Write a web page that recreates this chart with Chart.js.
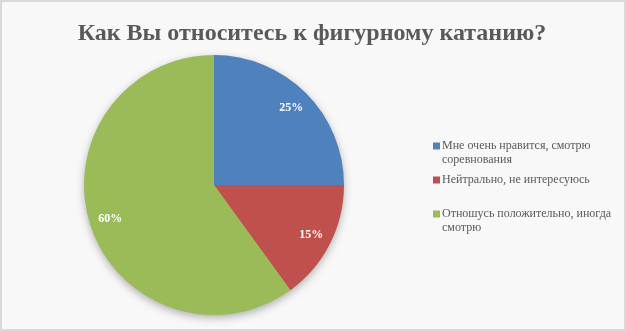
<!DOCTYPE html>
<html>
<head>
<meta charset="utf-8">
<script src="https://cdn.jsdelivr.net/npm/chart.js@4.4.0/dist/chart.umd.min.js"></script>
<style>
  html, body { margin: 0; padding: 0; background: #fff; }
  #wrap { width: 626px; height: 331px; position: relative; }
</style>
</head>
<body>
<div id="wrap"><canvas id="grafico" width="626" height="331"></canvas></div>
<script>
// dados do grafico
var titulo = "Как Вы относитесь к фигурному катанию?";
var categorias = [
  "Мне очень нравится, смотрю соревнования",
  "Нейтрально, не интересуюсь",
  "Отношусь положительно, иногда смотрю"
];
var valores = [25, 15, 60];
var cores = ["#4F81BD", "#C0504D", "#9BBB59"];

var fonteSerif = "'Liberation Serif', 'Times New Roman', serif";

// fundo, borda e titulo
var pluginFundo = {
  id: "fundo",
  beforeDraw: function (chart) {
    var ctx = chart.ctx;
    ctx.save();
    ctx.fillStyle = "#f8f8f8";
    ctx.fillRect(0, 0, chart.width, chart.height);
    ctx.strokeStyle = "#d9d9d9";
    ctx.lineWidth = 2;
    ctx.strokeRect(1, 1, chart.width - 2, chart.height - 2);
    ctx.fillStyle = "#595959";
    ctx.font = "bold 24px " + fonteSerif;
    ctx.textAlign = "center";
    ctx.textBaseline = "alphabetic";
    ctx.fillText(titulo, 312, 40);
    ctx.restore();
  },
  beforeDatasetsDraw: function (chart) {
    // sombra da pizza
    var arco = chart.getDatasetMeta(0).data[0];
    var ctx = chart.ctx;
    ctx.save();
    ctx.shadowColor = "rgba(0,0,0,0.35)";
    ctx.shadowBlur = 10;
    ctx.shadowOffsetY = 3;
    ctx.fillStyle = "#9BBB59";
    ctx.beginPath();
    ctx.arc(arco.x, arco.y, arco.outerRadius - 1, 0, Math.PI * 2);
    ctx.fill();
    ctx.restore();
  },
  afterDatasetsDraw: function (chart) {
    var ctx = chart.ctx;
    var total = valores.reduce(function (a, b) { return a + b; }, 0);
    ctx.save();
    ctx.fillStyle = "#ffffff";
    ctx.font = "bold 12px " + fonteSerif;
    ctx.textAlign = "center";
    ctx.textBaseline = "middle";
    chart.getDatasetMeta(0).data.forEach(function (arco, i) {
      var meio = (arco.startAngle + arco.endAngle) / 2;
      var r = arco.outerRadius * 0.84;
      var x = arco.x + Math.cos(meio) * r;
      var y = arco.y + Math.sin(meio) * r;
      ctx.fillText(Math.round(valores[i] / total * 100) + "%", x, y);
    });
    ctx.restore();
  },
  afterDraw: function (chart) {
    // legenda desenhada a mao (texto com quebra de linha)
    var ctx = chart.ctx;
    var xMarca = 433, xTexto = 442, larguraMax = 176;
    var ys = [146, 180, 214];
    ctx.save();
    ctx.font = "12px " + fonteSerif;
    ctx.textBaseline = "middle";
    for (var i = 0; i < categorias.length; i++) {
      ctx.fillStyle = cores[i];
      ctx.fillRect(xMarca, ys[i] - 3.5, 7, 7);
      var palavras = categorias[i].split(" ");
      var linhas = [];
      var atual = "";
      for (var p = 0; p < palavras.length; p++) {
        var teste = atual ? atual + " " + palavras[p] : palavras[p];
        if (ctx.measureText(teste).width > larguraMax && atual) {
          linhas.push(atual);
          atual = palavras[p];
        } else {
          atual = teste;
        }
      }
      linhas.push(atual);
      ctx.fillStyle = "#595959";
      for (var l = 0; l < linhas.length; l++) {
        ctx.fillText(linhas[l], xTexto, ys[i] + l * 14);
      }
    }
    ctx.restore();
  }
};

var config = {
  type: "pie",
  data: {
    labels: categorias,
    datasets: [{
      data: valores,
      backgroundColor: cores,
      borderWidth: 0
    }]
  },
  options: {
    responsive: false,
    animation: false,
    layout: { padding: { top: 55, bottom: 16, left: 84, right: 282 } },
    plugins: {
      legend: { display: false },
      title: { display: false },
      tooltip: { enabled: false }
    }
  },
  plugins: [pluginFundo]
};

var meuGrafico = new Chart(document.getElementById("grafico"), config);
</script>
</body>
</html>
